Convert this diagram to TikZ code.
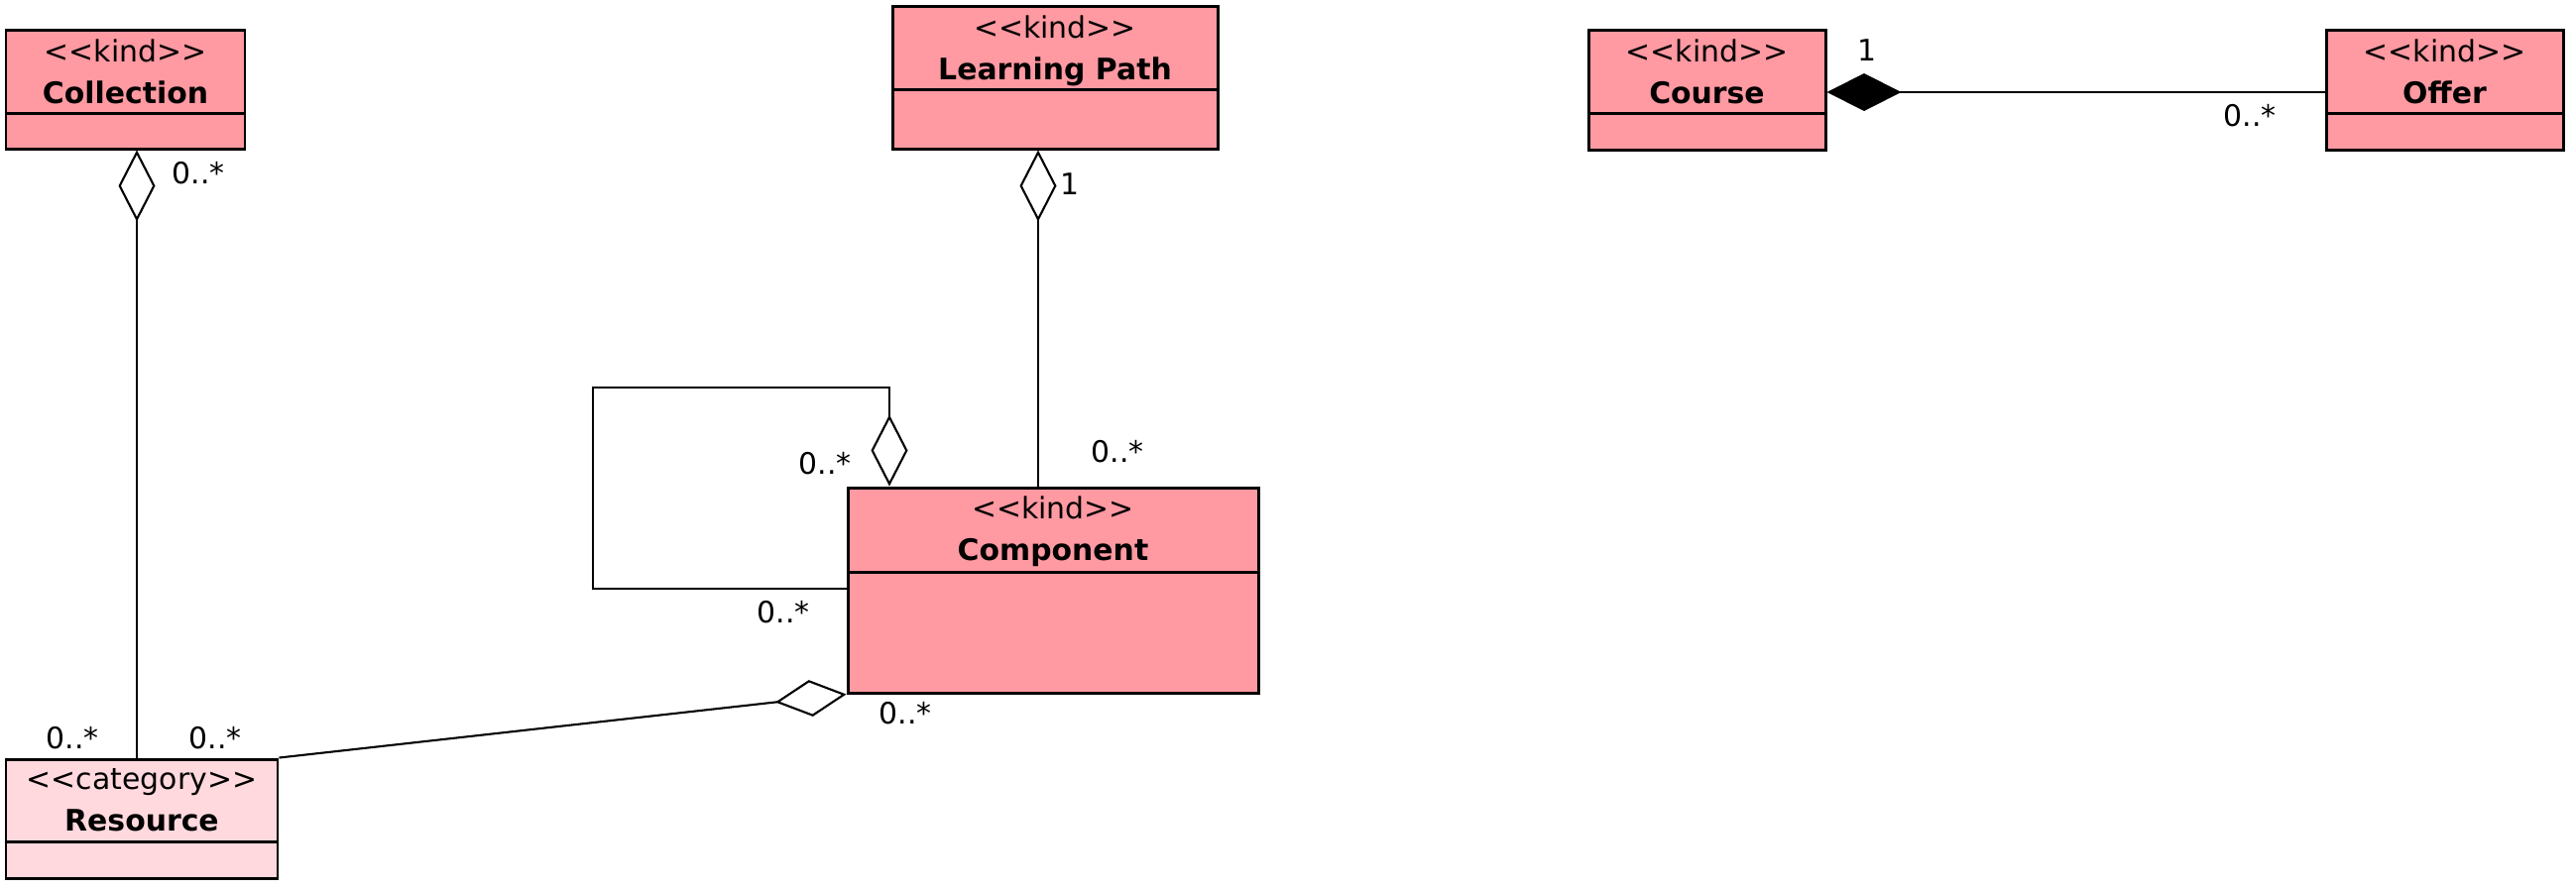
\documentclass[tikz,border=0pt]{standalone}
\usepackage{fontspec}
\setmainfont{DejaVu Sans}
\usetikzlibrary{arrows.meta}
\definecolor{kindpink}{RGB}{255,153,162}
\definecolor{catpink}{RGB}{255,217,221}
\newcommand{\stereo}[1]{<\kern0pt<#1>\kern0pt>}

\begin{document}
\begin{tikzpicture}[x=1cm, y=-1cm, line width=0.6pt,
    class/.style={draw, rectangle, line width=0.85pt, inner sep=0pt},
    kind/.style={class, fill=kindpink},
    category/.style={class, fill=catpink},
    divider/.style={line width=0.85pt},
    title/.style={align=center, inner sep=0pt, font=\fontsize{8.5}{12}\selectfont},
    mult/.style={inner sep=0pt, font=\fontsize{8.5}{10}\selectfont},
    aggr/.style={arrows={Diamond[open, length=7.2mm, width=3.7mm]-}},
    compo/.style={arrows={Diamond[length=7.5mm, width=3.8mm]-}}]
    \useasboundingbox (0,0) rectangle (25.98,8.97);

    % classes
    \node[kind, minimum width=2.41cm, minimum height=1.20cm] (collection) at (1.265,0.90) {};
    \node[kind, minimum width=3.28cm, minimum height=1.44cm] (path) at (10.64,0.78) {};
    \node[kind, minimum width=2.39cm, minimum height=1.21cm] (course) at (17.215,0.905) {};
    \node[kind, minimum width=2.39cm, minimum height=1.21cm] (offer) at (24.655,0.905) {};
    \node[kind, minimum width=4.14cm, minimum height=2.07cm] (component) at (10.62,5.955) {};
    \node[category, minimum width=2.74cm, minimum height=1.20cm] (resource) at (1.43,8.26) {};

    \draw[divider] (collection.west |- 0,1.14) -- (collection.east |- 0,1.14);
    \draw[divider] (path.west |- 0,0.90) -- (path.east |- 0,0.90);
    \draw[divider] (course.west |- 0,1.14) -- (course.east |- 0,1.14);
    \draw[divider] (offer.west |- 0,1.14) -- (offer.east |- 0,1.14);
    \draw[divider] (component.west |- 0,5.77) -- (component.east |- 0,5.77);
    \draw[divider] (resource.west |- 0,8.49) -- (resource.east |- 0,8.49);

    \node[title] (collection-t) at (collection.center |- 0,0.72) {\stereo{kind}\\\textbf{Collection}};
    \node[title] (path-t) at (path.center |- 0,0.51) {\stereo{kind}\\\textbf{Learning Path}};
    \node[title] (course-t) at (course.center |- 0,0.72) {\stereo{kind}\\\textbf{Course}};
    \node[title] (offer-t) at (offer.center |- 0,0.72) {\stereo{kind}\\\textbf{Offer}};
    \node[title] (component-t) at (component.center |- 0,5.36) {\stereo{kind}\\\textbf{Component}};
    \node[title] (resource-t) at (resource.center |- 0,8.075) {\stereo{category}\\\textbf{Resource}};

    % associations
    \draw[aggr] (collection.south -| 1.38,0) -- (resource.north -| 1.38,0);
    \draw[aggr] (path.south -| 10.47,0) -- (component.north -| 10.47,0);
    \draw[aggr] (component.north -| 8.97,0) -- (8.97,3.91) -- (5.98,3.91) -- (5.98,5.94) -- (component.west |- 0,5.94);
    \draw[aggr] (component.south west) -- (resource.north east);
    \draw[compo] (course.east |- 0,0.93) -- (offer.west |- 0,0.93);

    % multiplicities
    \node[mult] (m-col) at (2.00,1.75) {0..*};
    \node[mult] (m-res1) at (0.73,7.45) {0..*};
    \node[mult] (m-path) at (10.79,1.86) {1};
    \node[mult] (m-comp1) at (11.27,4.56) {0..*};
    \node[mult] (m-loop1) at (8.32,4.68) {0..*};
    \node[mult] (m-loop2) at (7.90,6.18) {0..*};
    \node[mult] (m-comp2) at (9.13,7.20) {0..*};
    \node[mult] (m-res2) at (2.17,7.45) {0..*};
    \node[mult] (m-course) at (18.83,0.51) {1};
    \node[mult] (m-offer) at (22.69,1.17) {0..*};
\end{tikzpicture}
\end{document}
